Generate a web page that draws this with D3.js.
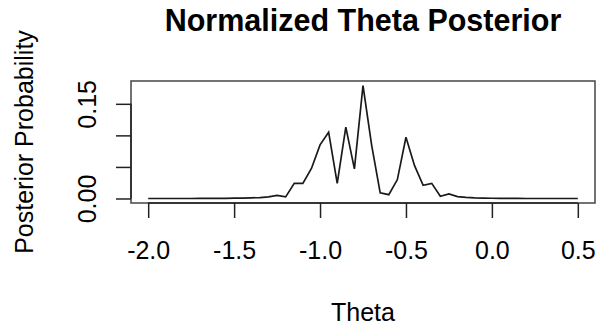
<!DOCTYPE html>
<html>
<head>
<meta charset="utf-8">
<script src="https://cdn.jsdelivr.net/npm/d3@7"></script>
<style>
  html, body { margin: 0; padding: 0; background: #fff; }
  svg { display: block; }
  text { font-family: "Liberation Sans", Arial, Helvetica, sans-serif; fill: #000; }
</style>
</head>
<body>
<script>
// Grid of theta values and their normalized posterior probabilities
const theta = [
  -2.00, -1.95, -1.90, -1.85, -1.80, -1.75, -1.70, -1.65, -1.60, -1.55,
  -1.50, -1.45, -1.40, -1.35, -1.30, -1.25, -1.20, -1.15, -1.10, -1.05,
  -1.00, -0.95, -0.90, -0.85, -0.80, -0.75, -0.70, -0.65, -0.60, -0.55,
  -0.50, -0.45, -0.40, -0.35, -0.30, -0.25, -0.20, -0.15, -0.10, -0.05,
   0.00,  0.05,  0.10,  0.15,  0.20,  0.25,  0.30,  0.35,  0.40,  0.45,
   0.50
];
const posterior = [
  0.0000, 0.0000, 0.0000, 0.0000, 0.0000, 0.0000, 0.0001, 0.0001, 0.0002, 0.0003,
  0.0005, 0.0007, 0.0010, 0.0015, 0.0025, 0.0050, 0.0025, 0.0240, 0.0240, 0.0475,
  0.0850, 0.1050, 0.0240, 0.1130, 0.0470, 0.1790, 0.0850, 0.0090, 0.0060, 0.0300,
  0.0970, 0.0520, 0.0210, 0.0240, 0.0035, 0.0072, 0.0030, 0.0018, 0.0010, 0.0006,
  0.0004, 0.0002, 0.0001, 0.0001, 0.0000, 0.0000, 0.0000, 0.0000, 0.0000, 0.0000,
  0.0000
];
const xTicks = [-2.0, -1.5, -1.0, -0.5, 0.0, 0.5];
const yTicks = [0.00, 0.05, 0.10, 0.15];
const yTickLabels = ["0.00", "", "", "0.15"];

const chartTitle = "Normalized Theta Posterior";
const xLabel = "Theta";
const yLabel = "Posterior Probability";

const W = 607, H = 326;
const box = { left: 131, right: 595, top: 81, bottom: 203 };

const svg = d3.select("body").append("svg")
  .attr("width", W).attr("height", H);

// Data ranges padded by 4% on each side, as in base graphics
function padded(ext) {
  const d = (ext[1] - ext[0]) * 0.04;
  return [ext[0] - d, ext[1] + d];
}
const x = d3.scaleLinear().domain(padded(d3.extent(theta))).range([box.left, box.right]);
const y = d3.scaleLinear().domain(padded(d3.extent(posterior))).range([box.bottom, box.top]);

// Posterior curve
const pts = theta.map((t, i) => [t, posterior[i]]);
svg.append("path")
  .datum(pts)
  .attr("fill", "none")
  .attr("stroke", "#1a1a1a")
  .attr("stroke-width", 1.7)
  .attr("stroke-linejoin", "miter")
  .attr("d", d3.line().x(d => x(d[0])).y(d => y(d[1])));

// Plot frame
svg.append("rect")
  .attr("x", box.left).attr("y", box.top)
  .attr("width", box.right - box.left).attr("height", box.bottom - box.top)
  .attr("fill", "none").attr("stroke", "#444").attr("stroke-width", 1.5);

// Bottom axis
const xAxis = d3.axisBottom(x).tickValues(xTicks).tickSize(15)
  .tickFormat(d3.format(".1f"));
const gx = svg.append("g").attr("transform", `translate(0,${box.bottom})`).call(xAxis);
gx.select(".domain")
  .attr("d", `M${x(xTicks[0])},0H${x(xTicks[xTicks.length - 1])}`)
  .attr("stroke", "#222").attr("stroke-width", 1.5);
gx.selectAll(".tick line").attr("stroke", "#222").attr("stroke-width", 1.5);
gx.selectAll(".tick text")
  .attr("font-size", 25).attr("font-family", "Liberation Sans, Arial, sans-serif")
  .attr("fill", "#000").attr("dy", "0.71em").attr("y", 38)
  .text(d => d3.format(".1f")(d).replace("−", "-"));

// Left axis with rotated labels
const yAxis = d3.axisLeft(y).tickValues(yTicks).tickSize(15).tickFormat("");
const gy = svg.append("g").attr("transform", `translate(${box.left},0)`).call(yAxis);
gy.select(".domain")
  .attr("d", `M0,${y(yTicks[0])}V${y(yTicks[yTicks.length - 1])}`)
  .attr("stroke", "#222").attr("stroke-width", 1.5);
gy.selectAll(".tick line").attr("stroke", "#222").attr("stroke-width", 1.5);
gy.selectAll(".tick").each(function (d, i) {
  d3.select(this).append("text")
    .attr("transform", "translate(-35,0) rotate(-90)")
    .attr("text-anchor", "middle")
    .attr("font-size", 25)
    .attr("font-family", "Liberation Sans, Arial, sans-serif")
    .attr("fill", "#000")
    .text(yTickLabels[i]);
});

// Title and axis titles
svg.append("text")
  .attr("x", (box.left + box.right) / 2).attr("y", 31)
  .attr("text-anchor", "middle")
  .attr("font-size", 30.5).attr("font-weight", "bold")
  .text(chartTitle);

svg.append("text")
  .attr("x", (box.left + box.right) / 2).attr("y", 321)
  .attr("text-anchor", "middle")
  .attr("font-size", 25)
  .text(xLabel);

svg.append("text")
  .attr("transform", `translate(33,${(box.top + box.bottom) / 2}) rotate(-90)`)
  .attr("text-anchor", "middle")
  .attr("font-size", 25)
  .text(yLabel);
</script>
</body>
</html>
